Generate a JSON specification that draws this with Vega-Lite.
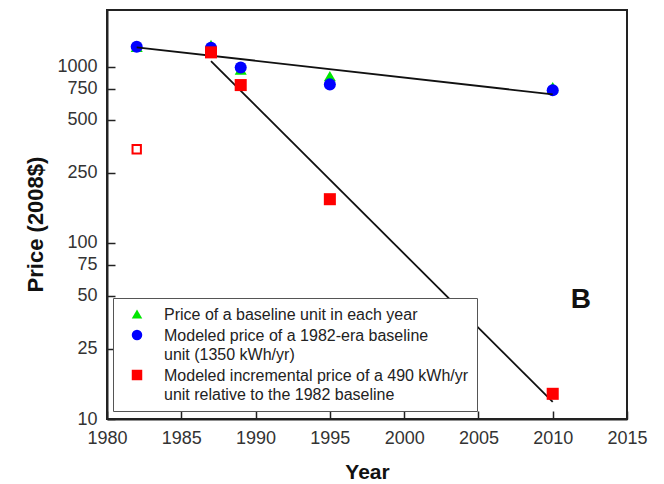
{
  "$schema": "https://vega.github.io/schema/vega-lite/v6.json",
  "width": 520,
  "height": 409,
  "autosize": {"type": "none"},
  "padding": {"left": 107, "top": 10, "right": 37, "bottom": 65},
  "background": "white",
  "config": {
    "view": {"stroke": "#222", "strokeWidth": 2},
    "font": "Liberation Sans",
    "axis": {
      "grid": false,
      "domainColor": "#222",
      "domainWidth": 2,
      "tickColor": "#222",
      "tickWidth": 1.5,
      "tickSize": -8,
      "labelFont": "Liberation Sans",
      "labelFontSize": 18,
      "labelColor": "#333",
      "titleFont": "Liberation Sans",
      "titleFontSize": 21,
      "titleFontWeight": "bold",
      "titleColor": "#111"
    }
  },
  "datasets": {
    "points": [
      {"year": 1982, "price": 1300, "series": "Price of a baseline unit in each year"},
      {"year": 1987, "price": 1330, "series": "Price of a baseline unit in each year"},
      {"year": 1989, "price": 965, "series": "Price of a baseline unit in each year"},
      {"year": 1995, "price": 885, "series": "Price of a baseline unit in each year"},
      {"year": 2010, "price": 766, "series": "Price of a baseline unit in each year"},
      {"year": 1982, "price": 1300, "series": "Modeled price of a 1982-era baseline unit (1350 kWh/yr)"},
      {"year": 1987, "price": 1280, "series": "Modeled price of a 1982-era baseline unit (1350 kWh/yr)"},
      {"year": 1989, "price": 990, "series": "Modeled price of a 1982-era baseline unit (1350 kWh/yr)"},
      {"year": 1995, "price": 794, "series": "Modeled price of a 1982-era baseline unit (1350 kWh/yr)"},
      {"year": 2010, "price": 736, "series": "Modeled price of a 1982-era baseline unit (1350 kWh/yr)"},
      {"year": 1987, "price": 1207, "series": "Modeled incremental price of a 490 kWh/yr unit relative to the 1982 baseline"},
      {"year": 1989, "price": 787, "series": "Modeled incremental price of a 490 kWh/yr unit relative to the 1982 baseline"},
      {"year": 1995, "price": 177, "series": "Modeled incremental price of a 490 kWh/yr unit relative to the 1982 baseline"},
      {"year": 2010, "price": 13.9, "series": "Modeled incremental price of a 490 kWh/yr unit relative to the 1982 baseline"}
    ],
    "hollow": [
      {"year": 1982, "price": 340}
    ],
    "fits": [
      {"fit": "baseline", "year": 1982, "price": 1290},
      {"fit": "baseline", "year": 2010, "price": 697},
      {"fit": "incremental", "year": 1987, "price": 1077},
      {"fit": "incremental", "year": 2010, "price": 12.5}
    ],
    "panel": [
      {"year": 2011.9, "price": 47.4, "label": "B"}
    ]
  },
  "encoding": {
    "x": {
      "field": "year",
      "type": "quantitative",
      "scale": {"domain": [1980, 2015], "nice": false, "zero": false},
      "axis": {"values": [1980, 1985, 1990, 1995, 2000, 2005, 2010, 2015], "format": "d", "title": "Year", "labelPadding": 18, "titlePadding": 14, "labelFlush": false}
    },
    "y": {
      "field": "price",
      "type": "quantitative",
      "scale": {"type": "log", "domain": [10, 2100], "nice": false},
      "axis": {"values": [10, 25, 50, 75, 100, 250, 500, 750, 1000], "format": "d", "title": "Price (2008$)", "titleFontSize": 22, "labelPadding": 18, "titlePadding": 9, "titleY": 214, "labelFlush": false}
    }
  },
  "layer": [
    {
      "data": {"name": "points"},
      "transform": [{"filter": "datum.series != 'Modeled incremental price of a 490 kWh/yr unit relative to the 1982 baseline'"}],
      "mark": {"type": "point", "filled": true, "opacity": 1, "size": 145, "strokeWidth": 0},
      "encoding": {
        "color": {
          "field": "series",
          "type": "nominal",
          "scale": {
            "domain": ["Price of a baseline unit in each year", "Modeled price of a 1982-era baseline unit (1350 kWh/yr)", "Modeled incremental price of a 490 kWh/yr unit relative to the 1982 baseline"],
            "range": ["#00e600", "#0000ff", "#ff0000"]
          },
          "legend": {
            "orient": "none",
            "legendX": 6,
            "legendY": 288,
            "title": null,
            "labelExpr": "datum.label == 'Price of a baseline unit in each year' ? datum.label : datum.label == 'Modeled price of a 1982-era baseline unit (1350 kWh/yr)' ? ['Modeled price of a 1982-era baseline', 'unit (1350 kWh/yr)'] : ['Modeled incremental price of a 490 kWh/yr', 'unit relative to the 1982 baseline']",
            "labelFont": "Liberation Sans",
            "labelFontSize": 16,
            "labelColor": "#222",
            "labelLimit": 400,
            "labelOffset": 19,
            "labelBaseline": "alphabetic",
            "symbolSize": 110,
            "symbolStrokeWidth": 0,
            "fillColor": "white",
            "strokeColor": "#555",
            "padding": 8,
            "symbolOffset": 8,
            "rowPadding": 4,
            "encoding": {
              "labels": {"dy": {"value": 6}, "lineHeight": {"value": 19}}
            }
          }
        },
        "shape": {
          "field": "series",
          "type": "nominal",
          "scale": {
            "domain": ["Price of a baseline unit in each year", "Modeled price of a 1982-era baseline unit (1350 kWh/yr)", "Modeled incremental price of a 490 kWh/yr unit relative to the 1982 baseline"],
            "range": ["triangle-up", "circle", "square"]
          }
        }
      }
    },
    {
      "data": {"name": "fits"},
      "mark": {"type": "line", "color": "#111", "strokeWidth": 1.8},
      "encoding": {"detail": {"field": "fit", "type": "nominal"}}
    },
    {
      "data": {"name": "points"},
      "transform": [{"filter": "datum.series == 'Modeled incremental price of a 490 kWh/yr unit relative to the 1982 baseline'"}],
      "mark": {"type": "point", "filled": true, "opacity": 1, "size": 145, "strokeWidth": 0},
      "encoding": {
        "color": {"field": "series", "type": "nominal"},
        "shape": {"field": "series", "type": "nominal"}
      }
    },
    {
      "data": {"name": "hollow"},
      "mark": {"type": "point", "shape": "square", "filled": false, "color": "#ff0000", "strokeWidth": 2, "size": 70, "opacity": 1}
    },
    {
      "data": {"name": "panel"},
      "mark": {"type": "text", "fontSize": 28, "fontWeight": "bold", "font": "Liberation Sans", "color": "#111", "align": "center", "baseline": "middle"},
      "encoding": {"text": {"field": "label"}}
    }
  ]
}
